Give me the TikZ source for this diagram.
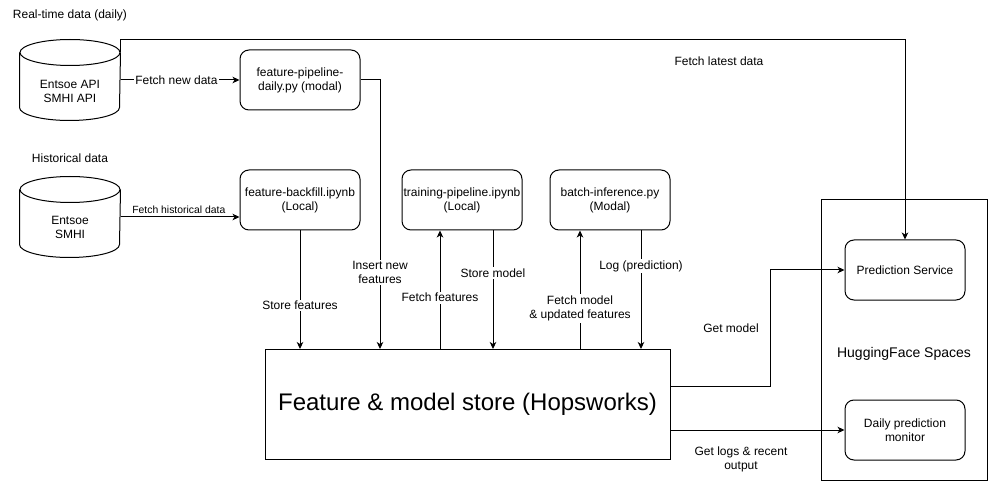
\documentclass[tikz,border=0pt]{standalone}
\usepackage{fontspec}
\setmainfont{Liberation Sans}
\usetikzlibrary{arrows.meta}
\newcommand\drawcylinder[1]{%
  \draw ([yshift=-13pt]#1.north) ellipse [x radius=50pt, y radius=13pt];
  \draw ([yshift=-13pt]#1.north west) -- ([yshift=13pt]#1.south west)
     arc[start angle=180, end angle=360, x radius=50pt, y radius=13pt]
     -- ([yshift=-13pt]#1.north east);}
\begin{document}
\begin{tikzpicture}[x=1pt,y=-1pt,line width=1pt,
  font=\fontsize{12pt}{14pt}\selectfont,
  box/.style={draw, rounded corners=9pt, minimum width=120pt, minimum height=60pt, align=center, inner sep=1pt},
  cylbox/.style={minimum width=100pt, minimum height=80pt, inner sep=0pt},
  txt/.style={inner sep=1pt, align=center},
  lbl/.style={fill=white, inner sep=1.5pt, align=center},
  arr/.style={-{Stealth[length=7pt,width=6.5pt,inset=2pt]}}]
\fill[white] (0,0) rectangle (991,481);
\useasboundingbox (0,0) rectangle (991,481);

% titles
\node[txt] (rt) at (70,15) {Real-time data (daily)};
\node[txt] (hist) at (70,158) {Historical data};

% cylinders
\node[cylbox, label={[txt, yshift=-11pt]center:Entsoe API\\SMHI API}] (cyl1) at (70,80) {};
\drawcylinder{cyl1}
\node[cylbox, label={[txt, yshift=-10pt]center:Entsoe\\SMHI}] (cyl2) at (70,217) {};
\drawcylinder{cyl2}

% process boxes
\node[box] (fpd) at (300,80) {feature-pipeline-\\daily.py (modal)};
\node[box] (fbf) at (300,200) {feature-backfill.ipynb\\(Local)};
\node[box] (tp) at (462,200) {training-pipeline.ipynb\\(Local)};
\node[box] (bi) at (610,200) {batch-inference.py\\(Modal)};

% store
\node[draw, minimum width=405pt, minimum height=110pt, inner sep=0pt,
  font=\fontsize{24pt}{28pt}\selectfont] (store) at (467.5,404.5) {Feature \& model store (Hopsworks)};

% HuggingFace container
\node[draw, minimum width=166pt, minimum height=280pt, inner sep=0pt,
  label={[txt, yshift=-14pt, font=\fontsize{14pt}{16pt}\selectfont]center:HuggingFace Spaces}] (hf) at (904,340) {};
\node[box] (ps) at (905,270) {Prediction Service};
\node[box] (dpm) at (905,430) {Daily prediction\\monitor};

% connectors
\draw[arr] (cyl1.east) -- node[lbl, pos=0.47] {Fetch new data} (fpd.west);
\draw[arr] (cyl2.east) -- node[txt, above=2pt, pos=0.49, font=\fontsize{10.4pt}{12pt}\selectfont] {Fetch historical data} (fbf.west |- cyl2.east);
\draw[arr] ([yshift=-13pt]cyl1.north east) -- (cyl1.north east) -| (ps.north)
  node[txt] at (719,61) {Fetch latest data};
\draw[arr] (fpd.east) -- (380,80) -- node[lbl, pos=0.715] {Insert new\\features} (380,0 |- store.north);
\draw[arr] (fbf.south) -- node[lbl, pos=0.633] {Store features} (fbf.south |- store.north);
\draw[arr] (440,0 |- store.north) -- node[lbl, pos=0.433] {Fetch features} (440,0 |- tp.south);
\draw[arr] (493,0 |- tp.south) -- node[lbl, pos=0.358] {Store model} (493,0 |- store.north);
\draw[arr] (580,0 |- store.north) -- node[lbl, pos=0.342] {Fetch model\\\& updated features} (580,0 |- bi.south);
\draw[arr] (641,0 |- bi.south) -- node[lbl, pos=0.3] {Log (prediction)} (641,0 |- store.north);
\draw[arr] (store.east |- 0,386) -- (770,386) |- (ps.west)
  node[txt] at (731,328) {Get model};
\draw[arr] (store.east |- dpm.west) -- (dpm.west)
  node[txt] at (741,459) {Get logs \& recent\\output};
\end{tikzpicture}
\end{document}
